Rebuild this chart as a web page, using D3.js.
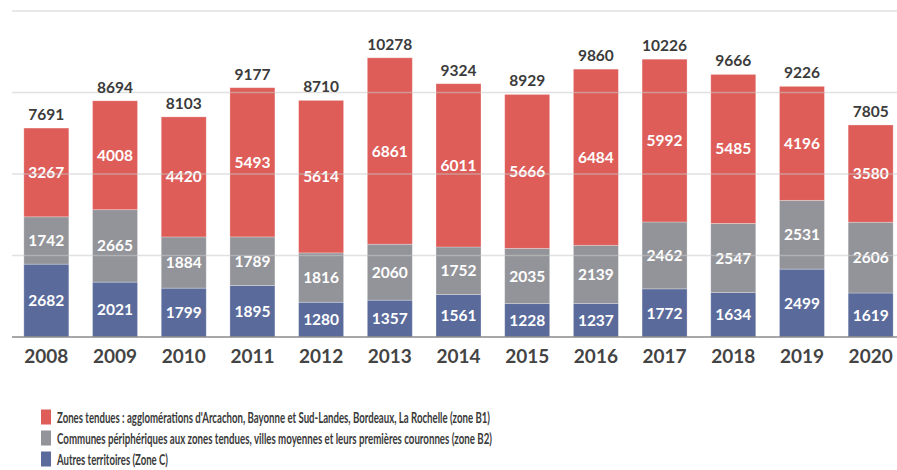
<!DOCTYPE html>
<html>
<head>
<meta charset="utf-8">
<script src="https://cdn.jsdelivr.net/npm/d3@7"></script>
<style>
  body { margin: 0; background: #fff; }
  svg text { font-family: Lato, "Open Sans", sans-serif; }
</style>
</head>
<body>
<svg class="chart_svg" width="897" height="470"></svg>
<script>
// values
const years = ["2008", "2009", "2010", "2011", "2012", "2013", "2014", "2015", "2016", "2017", "2018", "2019", "2020"];
const zoneB1 = [3267, 4008, 4420, 5493, 5614, 6861, 6011, 5666, 6484, 5992, 5485, 4196, 3580];
const zoneB2 = [1742, 2665, 1884, 1789, 1816, 2060, 1752, 2035, 2139, 2462, 2547, 2531, 2606];
const zoneC  = [2682, 2021, 1799, 1895, 1280, 1357, 1561, 1228, 1237, 1772, 1634, 2499, 1619];
const gridTicks = [3000, 6000, 9000, 12000];
const legendLabels = [
    "Zones tendues : agglomérations d'Arcachon, Bayonne et Sud-Landes, Bordeaux, La Rochelle (zone B1)",
    "Communes périphériques aux zones tendues, villes moyennes et leurs premières couronnes (zone B2)",
    "Autres territoires (Zone C)"
];

const colors = {C: "#5a6b9b", B2: "#939499", B1: "#de5d59"};
const legendColors = [colors.B1, colors.B2, colors.C];
const legendWidths = [433, 435, 111];

const baseY = 337;
const svg = d3.select(".chart_svg");

// one row per year, stacked bottom-up: C, B2, B1
const rows = years.map((y, i) => ({year: y, C: zoneC[i], B2: zoneB2[i], B1: zoneB1[i]}));
const keys = ["C", "B2", "B1"];
const stacked = d3.stack().keys(keys)(rows);

const x = d3.scaleBand()
    .domain(years)
    .range([12, 905])
    .paddingInner(0.345)
    .paddingOuter(0.1725);

const y = d3.scaleLinear()
    .domain([0, 12000])
    .range([baseY, 11]);

// bars
const layer = svg.append("g").selectAll("g")
    .data(stacked)
    .join("g")
    .attr("fill", d => colors[d.key]);

layer.selectAll("rect")
    .data(d => d)
    .join("rect")
    .attr("x", d => x(d.data.year))
    .attr("y", d => y(d[1]))
    .attr("width", x.bandwidth())
    .attr("height", d => y(d[0]) - y(d[1]))
    .attr("stroke", "#fff")
    .attr("stroke-opacity", 0.35)
    .attr("stroke-width", 0.8);

// segment labels
layer.selectAll("text")
    .data(d => d)
    .join("text")
    .attr("x", d => x(d.data.year) + x.bandwidth() / 2)
    .attr("y", d => (y(d[0]) + y(d[1])) / 2)
    .attr("dy", "0.36em")
    .attr("text-anchor", "middle")
    .attr("fill", "#fff")
    .attr("font-size", "15.5px")
    .attr("font-weight", "bold")
    .text(d => d[1] - d[0]);

// gridlines, drawn faintly over the bars
svg.append("g")
    .selectAll("line")
    .data(gridTicks)
    .join("line")
    .attr("x1", 12)
    .attr("x2", 897)
    .attr("y1", d => y(d))
    .attr("y2", d => y(d))
    .attr("stroke", "#c8c8c8")
    .attr("stroke-opacity", 0.55)
    .attr("stroke-width", 1.5);

// totals
svg.append("g")
    .selectAll("text")
    .data(rows)
    .join("text")
    .attr("x", d => x(d.year) + x.bandwidth() / 2)
    .attr("y", d => y(d.C + d.B2 + d.B1) - 8)
    .attr("text-anchor", "middle")
    .attr("fill", "#3b3b3b")
    .attr("font-size", "15.5px")
    .attr("font-weight", "bold")
    .text(d => d.C + d.B2 + d.B1);

// x axis
const xAxis = svg.append("g")
    .attr("transform", `translate(0, ${baseY})`)
    .call(d3.axisBottom(x).tickSize(0).tickPadding(13));
xAxis.select(".domain").remove();
xAxis.selectAll("text")
    .attr("fill", "#444")
    .attr("font-size", "19px")
    .attr("font-weight", "bold")
    .attr("font-family", "Lato, sans-serif");

svg.append("line")
    .attr("x1", 12)
    .attr("x2", 897)
    .attr("y1", baseY)
    .attr("y2", baseY)
    .attr("stroke", "#8a8a8a")
    .attr("stroke-width", 1.6);

// legend
const legend = svg.append("g")
    .selectAll("g")
    .data(legendLabels)
    .join("g")
    .attr("transform", (d, i) => `translate(41, ${417 + i * 21})`);

legend.append("rect")
    .attr("x", 0)
    .attr("y", -7.5)
    .attr("width", 10)
    .attr("height", 15)
    .attr("fill", (d, i) => legendColors[i]);

legend.append("text")
    .attr("x", 16)
    .attr("dy", "0.36em")
    .attr("fill", "#3a3a3a")
    .attr("font-size", "16px")
    .attr("font-weight", "bold")
    .attr("textLength", (d, i) => legendWidths[i])
    .attr("lengthAdjust", "spacingAndGlyphs")
    .text(d => d);
</script>
</body>
</html>
